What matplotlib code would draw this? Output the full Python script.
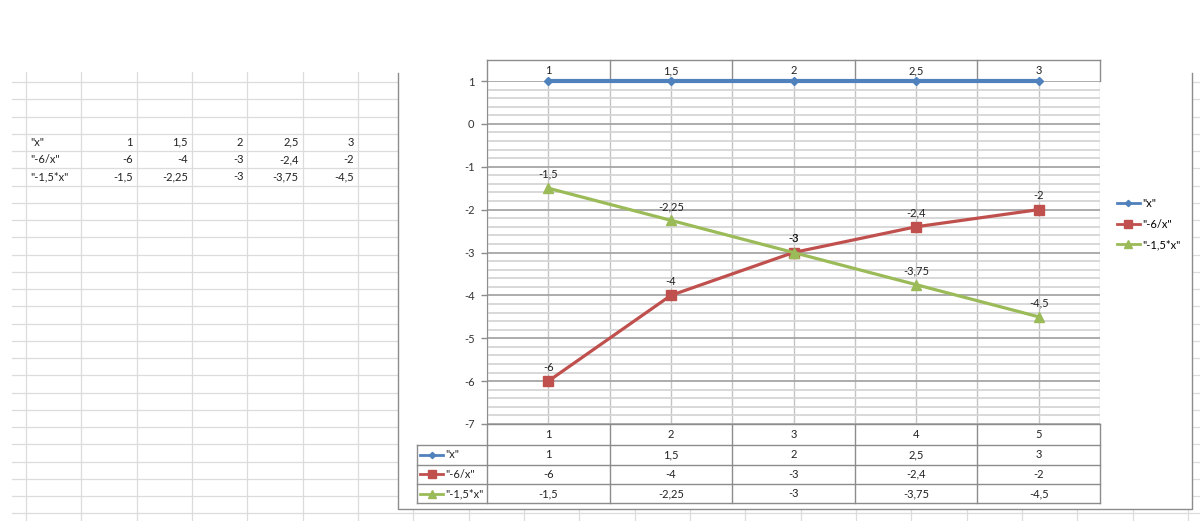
import matplotlib
matplotlib.use("Agg")
import matplotlib.pyplot as plt
import matplotlib.transforms as mtransforms
from matplotlib.patches import Rectangle
import numpy as np

plt.rcParams["font.family"] = ["Lato", "DejaVu Sans"]

# data, as in the sheet
series_names = ['"x"', '"-6/x"', '"-1,5*x"']
x_values = [1, 1.5, 2, 2.5, 3]
neg6_div_x = [-6, -4, -3, -2.4, -2]
neg15_mul_x = [-1.5, -2.25, -3, -3.75, -4.5]
categories = [1, 2, 3, 4, 5]
y_ticks = [1, 0, -1, -2, -3, -4, -5, -6, -7]

series = [x_values, neg6_div_x, neg15_mul_x]
colors = ["#4f81bd", "#c0504d", "#9bbb59"]
markers = ["D", "s", "^"]
msizes = [4, 7, 7.5]
widths = [3, 2.3, 2.3]
y_min, y_max = -7, 1


def fmt(v):
    return f"{v:g}".replace(".", ",")


W, H = 1200, 521
fig = plt.figure(figsize=(W / 100, H / 100), dpi=100)

# background: spreadsheet in pixel coords
bg = fig.add_axes([0, 0, 1, 1], zorder=0)
bg.set_xlim(0, W)
bg.set_ylim(H, 0)
bg.axis("off")

sheet_grid = "#dcdcdc"
row_h, col_w = 17.25, 55.33
for y in np.arange(82, H, row_h):
    bg.plot([12, W], [y, y], color=sheet_grid, lw=0.9)
for x in np.arange(26, W, col_w):
    bg.plot([x, x], [72, H], color=sheet_grid, lw=0.9)

# cells with the table
for i, (name, vals) in enumerate(zip(series_names, series)):
    y = 82 + row_h * (3.5 + i)
    bg.text(30, y, name, ha="left", va="center", fontsize=8, color="#222222")
    for j, v in enumerate(vals):
        bg.text(26 + col_w * (j + 2) - 4, y, fmt(v), ha="right", va="center",
                fontsize=8, color="#222222")

# chart object
chart_l, chart_r, chart_b = 398, 1192, 509
bg.add_patch(Rectangle((chart_l, 0), chart_r - chart_l, chart_b, fc="white",
                       ec="none", zorder=3))
border_c = "#8c8c8c"
bg.plot([chart_l, chart_l, chart_r, chart_r], [73, chart_b, chart_b, 73],
        color=border_c, lw=1, zorder=4)

# plot area
pl, pr, pt, pb = 487, 1100, 81, 424
ax = fig.add_axes([pl / W, 1 - pb / H, (pr - pl) / W, (pb - pt) / H], zorder=2)
ax.set_facecolor("none")
ax.set_xlim(categories[0] - 0.5, categories[-1] + 0.5)
ax.set_ylim(y_min, y_max)

ax.set_yticks(y_ticks)
ax.set_yticklabels([fmt(t) for t in y_ticks])
ax.set_yticks(np.arange(y_min, y_max, 0.2), minor=True)
ax.set_xticks(categories)
ax.set_xticks([c - 0.5 for c in categories] + [categories[-1] + 0.5], minor=True)
ax.tick_params(axis="x", which="both", length=0, labelbottom=False)
ax.tick_params(axis="y", which="major", direction="out", length=4, width=1,
               color="#8c8c8c", labelsize=8, labelcolor="#333333", pad=5)
ax.tick_params(axis="y", which="minor", length=0)
ax.grid(which="minor", axis="y", color="#d6d6d6", lw=1.3)
ax.grid(which="major", axis="y", color="#a6a6a6", lw=1.3)
ax.grid(which="both", axis="x", color="#c4c4c4", lw=1)
ax.set_axisbelow(True)
for s in ["top", "right", "bottom"]:
    ax.spines[s].set_visible(False)
ax.spines["left"].set_color("#8c8c8c")

# Excel pins values above the axis max to the top edge
for k, vals in enumerate(series):
    shown = np.minimum(vals, y_max)
    ax.plot(categories, shown, color=colors[k], lw=widths[k], marker=markers[k],
            ms=msizes[k], mec=colors[k], mfc=colors[k], clip_on=False,
            zorder=5, label=series_names[k])
    if k > 0:
        for c, v in zip(categories, vals):
            ax.annotate(fmt(v), (c, v), xytext=(0, 10), textcoords="offset points",
                        ha="center", va="center", fontsize=8, color="#222222")

leg = ax.legend(loc="center left", bbox_to_anchor=(1.027, 0.583), frameon=False,
                fontsize=8, handlelength=2.1, handletextpad=0.2, labelspacing=0.85,
                borderpad=0, borderaxespad=0, markerscale=0.8)
for h in leg.legend_handles:
    h.set_linewidth(2)

# top label row and bottom data table, x from the axis scale
tr = mtransforms.blended_transform_factory(ax.transData, bg.transData)
line_c = "#8c8c8c"
edges = [c - 0.5 for c in categories] + [categories[-1] + 0.5]
top_y = 60
bg.plot([edges[0], edges[-1]], [top_y, top_y], color=line_c, lw=1,
        transform=tr, zorder=4)
for e in edges:
    bg.plot([e, e], [top_y, pt], color=line_c, lw=1, transform=tr, zorder=4)
for c, v in zip(categories, x_values):
    bg.text(c, (top_y + pt) / 2, fmt(v), ha="center", va="center", fontsize=8,
            color="#222222", transform=tr, zorder=4)

rows = [pb, 445, 464.5, 484, 503]
for e in edges:
    bg.plot([e, e], [rows[0], rows[-1]], color=line_c, lw=1, transform=tr, zorder=4)
for y in rows[1:]:
    bg.plot([417, pr], [y, y], color=line_c, lw=1, zorder=4)
bg.plot([pl, pr], [pb, pb], color=line_c, lw=1, zorder=4)
bg.plot([417, 417], [rows[1], rows[-1]], color=line_c, lw=1, zorder=4)

for c in categories:
    bg.text(c, (rows[0] + rows[1]) / 2, fmt(c), ha="center", va="center",
            fontsize=8, color="#222222", transform=tr, zorder=4)
for k, vals in enumerate(series):
    yc = (rows[k + 1] + rows[k + 2]) / 2
    bg.plot([420, 443], [yc, yc], color=colors[k], lw=2, zorder=5)
    bg.plot([431.5], [yc], marker=markers[k], ms=msizes[k] * 0.8, color=colors[k],
            zorder=5)
    bg.text(445, yc, series_names[k], ha="left", va="center", fontsize=8,
            color="#222222", zorder=5)
    for c, v in zip(categories, vals):
        bg.text(c, yc, fmt(v), ha="center", va="center", fontsize=8,
                color="#222222", transform=tr, zorder=4)

fig.savefig("out.png", dpi=100)
